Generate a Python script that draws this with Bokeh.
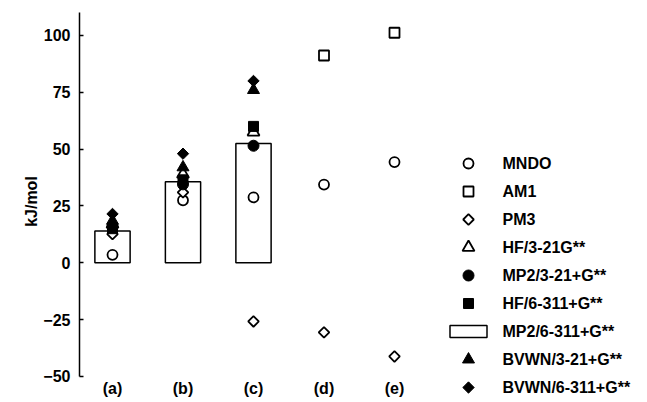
import numpy as np
from bokeh.plotting import figure
from bokeh.models import Range1d, FixedTicker
from bokeh.embed import file_html
from bokeh.resources import INLINE
from bokeh.core.properties import value

NA = np.nan

# ---------------- data ----------------
categories = ["(a)", "(b)", "(c)", "(d)", "(e)"]
y_ticks = [-50, -25, 0, 25, 50, 75, 100]

mndo = [3.5, 27.5, 28.8, 34.4, 44.3]
am1 = [NA, NA, NA, 91.2, 101.2]
pm3 = [12.6, 31.0, -25.8, -30.6, -41.2]
hf_321 = [17.0, 39.0, 57.5, NA, NA]
mp2_321 = [16.0, 34.5, 51.5, NA, NA]
hf_6311 = [15.0, 36.5, 60.0, NA, NA]
mp2_6311 = [14.0, 35.7, 52.5, NA, NA]      # bars
bvwn_321 = [18.5, 42.0, 76.0, NA, NA]
bvwn_6311 = [21.5, 48.0, 80.0, NA, NA]

series_names = ["MNDO", "AM1", "PM3", "HF/3-21G**", "MP2/3-21+G**",
                "HF/6-311+G**", "MP2/6-311+G**", "BVWN/3-21+G**", "BVWN/6-311+G**"]

FONT = "Liberation Sans"
x_idx = list(range(len(categories)))

styles = {
    "MNDO": dict(marker="circle", size=10, fill_color="white", angle=0.0, line_width=1.8),
    "AM1": dict(marker="square", size=10, fill_color="white", angle=0.0, line_width=1.8),
    "PM3": dict(marker="square", size=7.5, fill_color="white", angle=np.pi / 4, line_width=1.8),
    "HF/3-21G**": dict(marker="triangle", size=12, fill_color="white", angle=0.0, line_width=1.8),
    "MP2/3-21+G**": dict(marker="circle", size=11, fill_color="black", angle=0.0, line_width=1),
    "HF/6-311+G**": dict(marker="square", size=10, fill_color="black", angle=0.0, line_width=1),
    "MP2/6-311+G**": None,
    "BVWN/3-21+G**": dict(marker="triangle", size=12, fill_color="black", angle=0.0, line_width=1),
    "BVWN/6-311+G**": dict(marker="square", size=8, fill_color="black", angle=np.pi / 4, line_width=1),
}
series_values = {
    "MNDO": mndo, "AM1": am1, "PM3": pm3, "HF/3-21G**": hf_321,
    "MP2/3-21+G**": mp2_321, "HF/6-311+G**": hf_6311, "MP2/6-311+G**": mp2_6311,
    "BVWN/3-21+G**": bvwn_321, "BVWN/6-311+G**": bvwn_6311,
}

# ---------------- figure ----------------
W, H = 647, 402
AX_X = 79          # pixel column of the value axis
PX_PER_CAT = 70.5
CAT0_X = 112
PX_PER_UNIT = 2.2733
ZERO_Y = 262.3

x_start = -(CAT0_X - AX_X) / PX_PER_CAT
x_end = (W - CAT0_X) / PX_PER_CAT
y_end = ZERO_Y / PX_PER_UNIT
y_start = -(H - ZERO_Y) / PX_PER_UNIT

p = figure(width=W, height=H, output_backend="svg", toolbar_location=None,
           x_range=Range1d(x_start, x_end), y_range=Range1d(y_start, y_end),
           x_axis_location=None,
           min_border_left=AX_X, min_border_right=0, min_border_top=0, min_border_bottom=0)
p.outline_line_color = None
p.grid.visible = False
p.background_fill_color = "white"
p.border_fill_color = "white"

# bars
p.vbar(x=x_idx, top=mp2_6311, width=0.5, bottom=0,
       fill_color="white", line_color="black", line_width=1.5)

for name in series_names:
    st = styles[name]
    if st is None:
        continue
    p.scatter(x=x_idx, y=series_values[name], marker=st["marker"], size=st["size"],
              angle=st["angle"], fill_color=st["fill_color"], line_color="black",
              line_width=st["line_width"])

# category labels under the axis end
p.text(x=x_idx, y=[y_ticks[0]] * len(x_idx), text=categories, y_offset=12,
       text_font=value(FONT), text_font_style="bold", text_font_size="16px",
       text_align="center", text_baseline="middle", text_color="black")

# y axis
ya = p.yaxis[0]
ya.ticker = FixedTicker(ticks=y_ticks)
ya.bounds = (y_ticks[0], 110.1)
ya.axis_label = "kJ/mol"
ya.axis_label_text_font = FONT
ya.axis_label_text_font_style = "bold"
ya.axis_label_text_font_size = "16px"
ya.axis_label_text_color = "black"
ya.axis_label_standoff = 0
ya.major_label_text_font = FONT
ya.major_label_text_font_style = "bold"
ya.major_label_text_font_size = "16px"
ya.major_label_text_color = "black"
ya.major_label_standoff = 9
ya.major_tick_in = 4
ya.major_tick_out = 0
ya.minor_tick_line_color = None
ya.axis_line_width = 1.5
ya.major_tick_line_width = 1.5
ya.axis_line_color = "black"
ya.major_tick_line_color = "black"

# ---------------- legend (glyphs in pixel-like extra ranges) ----------------
ROW0, PITCH = 163, 28
p.extra_x_ranges = {"lx": Range1d(AX_X, W)}
p.extra_y_ranges = {"ly": Range1d((H - ROW0) / PITCH, (0 - ROW0) / PITCH)}

MARK_X, TEXT_X = 468, 502
rows = list(range(len(series_names)))
for r, name in zip(rows, series_names):
    st = styles[name]
    if st is None:
        p.rect(x=[MARK_X], y=[r], width=37, height=12, width_units="screen",
               height_units="screen", fill_color="white", line_color="black",
               line_width=1.5, x_range_name="lx", y_range_name="ly")
    else:
        p.scatter(x=[MARK_X], y=[r], marker=st["marker"], size=st["size"],
                  angle=st["angle"], fill_color=st["fill_color"], line_color="black",
                  line_width=st["line_width"], x_range_name="lx", y_range_name="ly")

p.text(x=[TEXT_X] * len(rows), y=rows, text=series_names,
       text_font=value(FONT), text_font_style="bold", text_font_size="16px",
       text_baseline="middle", text_align="left", text_color="black",
       x_range_name="lx", y_range_name="ly")

open("out.html", "w").write(file_html(p, INLINE))
